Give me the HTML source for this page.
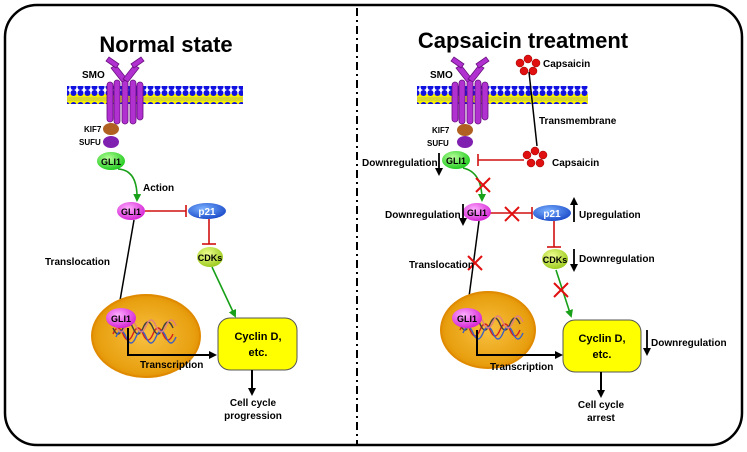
<!DOCTYPE html>
<html><head><meta charset="utf-8"><style>
html,body{margin:0;padding:0;background:#fff}
svg{display:block}
text{font-family:"Liberation Sans",sans-serif;font-weight:bold;fill:#000}
</style></head><body>
<svg width="747" height="452" viewBox="0 0 747 452" xmlns="http://www.w3.org/2000/svg">
<defs>
<pattern id="dots" x="0" y="0" width="7" height="18" patternUnits="userSpaceOnUse">
<rect x="0" y="4" width="7" height="10" fill="#f4f000"/>
<line x1="0" y1="8" x2="7" y2="8" stroke="#999" stroke-width="0.6"/>
<line x1="0" y1="10" x2="7" y2="10" stroke="#999" stroke-width="0.6"/>
<circle cx="3.5" cy="3" r="3" fill="#1010e0"/>
<circle cx="3.5" cy="15" r="3" fill="#1010e0"/>
</pattern>
<radialGradient id="gG" cx="40%" cy="35%" r="70%"><stop offset="0" stop-color="#b8ff9a"/><stop offset="1" stop-color="#18c818"/></radialGradient>
<radialGradient id="gP" cx="40%" cy="35%" r="70%"><stop offset="0" stop-color="#ffb0ff"/><stop offset="1" stop-color="#d21cd2"/></radialGradient>
<radialGradient id="gB" cx="40%" cy="35%" r="70%"><stop offset="0" stop-color="#7ab0ff"/><stop offset="1" stop-color="#1848c8"/></radialGradient>
<radialGradient id="gC" cx="40%" cy="35%" r="70%"><stop offset="0" stop-color="#f0ff90"/><stop offset="1" stop-color="#98c818"/></radialGradient>
<radialGradient id="gN" cx="50%" cy="50%" r="55%"><stop offset="0" stop-color="#f8c040"/><stop offset="0.8" stop-color="#e8a010"/><stop offset="1" stop-color="#e08a00"/></radialGradient>
<marker id="ak" markerWidth="8" markerHeight="8" refX="6" refY="4" orient="auto" markerUnits="userSpaceOnUse"><path d="M0,0 L8,4 L0,8 Z" fill="#000"/></marker>
<marker id="ag" markerWidth="8" markerHeight="8" refX="6" refY="4" orient="auto" markerUnits="userSpaceOnUse"><path d="M0,0 L8,4 L0,8 Z" fill="#18a018"/></marker>
<g id="smo" fill="#b030d0" stroke="#6a1080" stroke-width="0.8">
<rect x="-18" y="0" width="6" height="40" rx="3"/><rect x="-11" y="-2" width="6" height="44" rx="3"/><rect x="-3" y="-2" width="6" height="44" rx="3"/><rect x="5" y="-2" width="6" height="44" rx="3"/><rect x="12" y="0" width="6" height="38" rx="3"/>
<path d="M-3,0 L-14,-14 L-9,-17 L2,-3 Z"/><path d="M-2,-3 L9,-17 L14,-14 L3,0 Z"/>
<path d="M-9,-14 L-19,-21 L-16,-25 L-6,-18Z"/><path d="M6,-18 L16,-25 L19,-21 L9,-14Z"/>
</g>
<g id="dna" fill="none" stroke-width="1.4">
<path d="M0,0 q5,-12 10,0 t10,0 t10,0 t10,0 t10,0 t10,0" stroke="#d02020"/>
<path d="M0,-6 q5,12 10,0 t10,0 t10,0 t10,0 t10,0 t10,0" stroke="#404040"/>
<path d="M3,3 q5,-12 10,0 t10,0 t10,0 t10,0 t10,0 t10,0" stroke="#4060c0"/>
<path d="M3,-8 q5,12 10,0 t10,0 t10,0 t10,0 t10,0 t10,0" stroke="#e08080"/>
</g>
<g id="caps" fill="#e01010" stroke="#900" stroke-width="0.5">
<circle cx="-8" cy="-3" r="4"/><circle cx="0" cy="-7" r="4"/><circle cx="8" cy="-3" r="4"/><circle cx="-4" cy="5" r="4"/><circle cx="5" cy="5" r="4"/>
</g>
<g id="x" stroke="#e01010" stroke-width="2"><line x1="-7" y1="-7" x2="7" y2="7"/><line x1="7" y1="-7" x2="-7" y2="7"/></g>
</defs>

<rect x="5" y="5" width="737" height="440" rx="32" fill="#fff" stroke="#000" stroke-width="2.5"/>
<line x1="357" y1="8" x2="357" y2="444" stroke="#000" stroke-width="2" stroke-dasharray="8,4,2,4"/>

<!-- LEFT -->
<text x="166" y="52" font-size="22" text-anchor="middle">Normal state</text>
<rect x="67" y="86" width="176" height="18" fill="url(#dots)"/>
<use href="#smo" x="125" y="82"/>
<text x="82" y="78" font-size="10">SMO</text>
<ellipse cx="111" cy="129" rx="8" ry="6" fill="#b06020"/>
<text x="84" y="132" font-size="8">KIF7</text>
<ellipse cx="111" cy="142" rx="8" ry="6" fill="#8020b0"/>
<text x="79" y="145" font-size="8">SUFU</text>
<ellipse cx="111" cy="161" rx="14" ry="9" fill="url(#gG)"/>
<text x="111" y="165" font-size="9" text-anchor="middle">GLI1</text>
<path d="M118,169 Q138,170 137,200" fill="none" stroke="#18a018" stroke-width="1.6" marker-end="url(#ag)"/>
<text x="143" y="191" font-size="10">Action</text>
<line x1="145" y1="211" x2="186" y2="211" stroke="#d01010" stroke-width="1.6"/>
<line x1="186" y1="205" x2="186" y2="217" stroke="#d01010" stroke-width="1.6"/>
<ellipse cx="131" cy="211" rx="14" ry="9" fill="url(#gP)"/>
<text x="131" y="215" font-size="9" text-anchor="middle">GLI1</text>
<ellipse cx="207" cy="211" rx="19" ry="8" fill="url(#gB)"/>
<text x="207" y="215" font-size="10" text-anchor="middle" style="fill:#fff">p21</text>
<line x1="209" y1="219" x2="209" y2="244" stroke="#d01010" stroke-width="1.6"/>
<line x1="202" y1="244" x2="216" y2="244" stroke="#d01010" stroke-width="1.6"/>
<ellipse cx="210" cy="257" rx="13" ry="10" fill="url(#gC)"/>
<text x="210" y="261" font-size="9" text-anchor="middle">CDKs</text>
<line x1="212" y1="267" x2="235" y2="316" stroke="#18a018" stroke-width="1.6" marker-end="url(#ag)"/>
<line x1="134" y1="220" x2="118" y2="312" stroke="#000" stroke-width="1.5"/>
<text x="45" y="265" font-size="10">Translocation</text>
<ellipse cx="146" cy="336" rx="54" ry="41" fill="url(#gN)" stroke="#e08a00" stroke-width="2"/>
<use href="#dna" x="113" y="334"/>
<ellipse cx="121" cy="318" rx="15" ry="10" fill="url(#gP)"/>
<text x="121" y="322" font-size="9" text-anchor="middle">GLI1</text>
<path d="M128,328 L128,355 L215,355" fill="none" stroke="#000" stroke-width="2" marker-end="url(#ak)"/>
<text x="140" y="368" font-size="10">Transcription</text>
<rect x="218" y="318" width="79" height="52" rx="12" fill="#ffff00" stroke="#555" stroke-width="1"/>
<text x="258" y="340" font-size="11" text-anchor="middle">Cyclin D,</text>
<text x="258" y="356" font-size="11" text-anchor="middle">etc.</text>
<line x1="252" y1="370" x2="252" y2="394" stroke="#000" stroke-width="2" marker-end="url(#ak)"/>
<text x="253" y="406" font-size="10" text-anchor="middle">Cell cycle</text>
<text x="253" y="419" font-size="10" text-anchor="middle">progression</text>

<!-- RIGHT -->
<text x="523" y="48" font-size="22" text-anchor="middle">Capsaicin treatment</text>
<rect x="417" y="86" width="171" height="18" fill="url(#dots)"/>
<use href="#smo" x="470" y="82"/>
<text x="430" y="78" font-size="10">SMO</text>
<use href="#caps" x="528" y="66"/>
<text x="543" y="67" font-size="10">Capsaicin</text>
<line x1="529" y1="72" x2="537" y2="146" stroke="#000" stroke-width="1.5"/>
<text x="539" y="124" font-size="10">Transmembrane</text>
<ellipse cx="465" cy="130" rx="8" ry="6" fill="#b06020"/>
<text x="432" y="133" font-size="8">KIF7</text>
<ellipse cx="465" cy="142" rx="8" ry="6" fill="#8020b0"/>
<text x="427" y="146" font-size="8">SUFU</text>
<ellipse cx="456" cy="160" rx="14" ry="9" fill="url(#gG)"/>
<text x="456" y="164" font-size="9" text-anchor="middle">GLI1</text>
<text x="362" y="166" font-size="10">Downregulation</text>
<line x1="439" y1="153" x2="439" y2="174" stroke="#000" stroke-width="1.8" marker-end="url(#ak)"/>
<line x1="478" y1="160" x2="524" y2="160" stroke="#d01010" stroke-width="1.6"/>
<line x1="478" y1="154" x2="478" y2="166" stroke="#d01010" stroke-width="1.6"/>
<use href="#caps" x="535" y="158"/>
<text x="552" y="166" font-size="10">Capsaicin</text>
<path d="M463,168 Q482,172 482,200" fill="none" stroke="#18a018" stroke-width="1.6" marker-end="url(#ag)"/>
<use href="#x" x="483" y="185"/>
<line x1="490" y1="213" x2="532" y2="213" stroke="#d01010" stroke-width="1.6"/>
<line x1="532" y1="207" x2="532" y2="219" stroke="#d01010" stroke-width="1.6"/>
<use href="#x" x="512" y="214"/>
<ellipse cx="477" cy="212" rx="14" ry="9" fill="url(#gP)"/>
<text x="477" y="216" font-size="9" text-anchor="middle">GLI1</text>
<text x="385" y="218" font-size="10">Downregulation</text>
<line x1="463" y1="204" x2="463" y2="224" stroke="#000" stroke-width="1.8" marker-end="url(#ak)"/>
<ellipse cx="552" cy="213" rx="19" ry="8" fill="url(#gB)"/>
<text x="552" y="217" font-size="10" text-anchor="middle" style="fill:#fff">p21</text>
<line x1="574" y1="222" x2="574" y2="199" stroke="#000" stroke-width="1.8" marker-end="url(#ak)"/>
<text x="579" y="218" font-size="10">Upregulation</text>
<line x1="554" y1="221" x2="554" y2="247" stroke="#d01010" stroke-width="1.6"/>
<line x1="547" y1="247" x2="561" y2="247" stroke="#d01010" stroke-width="1.6"/>
<ellipse cx="555" cy="259" rx="13" ry="10" fill="url(#gC)"/>
<text x="555" y="263" font-size="9" text-anchor="middle">CDKs</text>
<line x1="574" y1="249" x2="574" y2="270" stroke="#000" stroke-width="1.8" marker-end="url(#ak)"/>
<text x="579" y="262" font-size="10">Downregulation</text>
<line x1="556" y1="270" x2="571" y2="316" stroke="#18a018" stroke-width="1.6" marker-end="url(#ag)"/>
<use href="#x" x="561" y="290"/>
<line x1="479" y1="221" x2="467" y2="312" stroke="#000" stroke-width="1.5"/>
<use href="#x" x="475" y="263"/>
<text x="409" y="268" font-size="10">Translocation</text>
<ellipse cx="488" cy="330" rx="47" ry="38" fill="url(#gN)" stroke="#e08a00" stroke-width="2"/>
<use href="#dna" x="460" y="330"/>
<ellipse cx="467" cy="318" rx="15" ry="10" fill="url(#gP)"/>
<text x="467" y="322" font-size="9" text-anchor="middle">GLI1</text>
<path d="M477,330 L477,355 L561,355" fill="none" stroke="#000" stroke-width="2" marker-end="url(#ak)"/>
<text x="490" y="370" font-size="10">Transcription</text>
<rect x="563" y="320" width="78" height="52" rx="12" fill="#ffff00" stroke="#555" stroke-width="1"/>
<text x="602" y="342" font-size="11" text-anchor="middle">Cyclin D,</text>
<text x="602" y="358" font-size="11" text-anchor="middle">etc.</text>
<line x1="647" y1="330" x2="647" y2="354" stroke="#000" stroke-width="1.8" marker-end="url(#ak)"/>
<text x="651" y="346" font-size="10">Downregulation</text>
<line x1="601" y1="372" x2="601" y2="396" stroke="#000" stroke-width="2" marker-end="url(#ak)"/>
<text x="601" y="408" font-size="10" text-anchor="middle">Cell cycle</text>
<text x="601" y="421" font-size="10" text-anchor="middle">arrest</text>
</svg>
</body></html>
